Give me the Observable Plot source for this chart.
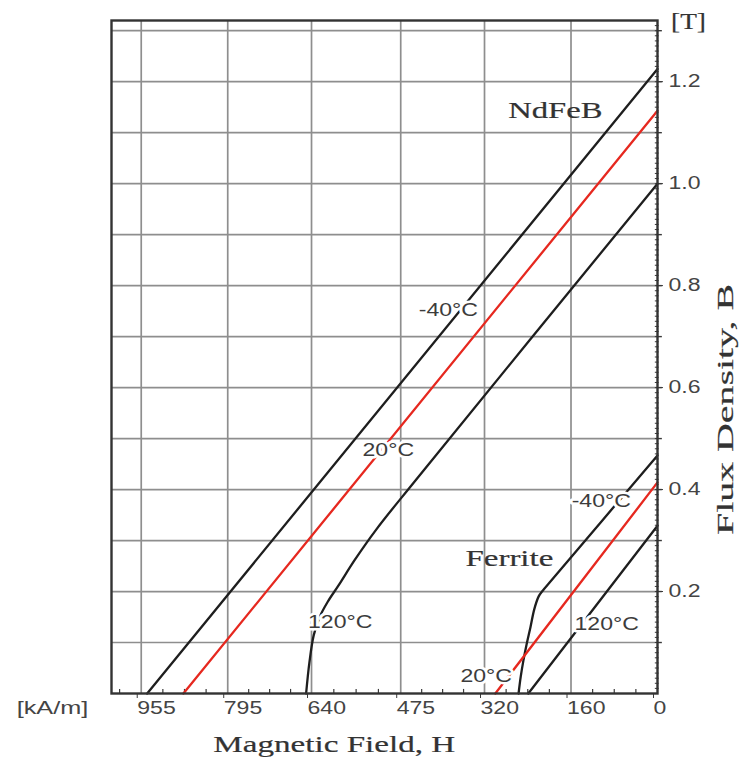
<!DOCTYPE html>
<html>
<head>
<meta charset="utf-8">
<script src="https://cdn.jsdelivr.net/npm/d3@7"></script>
<script src="https://cdn.jsdelivr.net/npm/@observablehq/plot@0.6"></script>
<style>
  body { margin: 0; background: #fff; }
</style>
</head>
<body>
<div id="chart"></div>
<script>
// Second-quadrant demagnetization curves, B (T) against H (kA/m),
// for sintered NdFeB and ferrite magnets at -40 °C, 20 °C and 120 °C.

// Axis ticks
const hTicks = [955, 795, 640, 475, 320, 160, 0];
const bTicks = [0.2, 0.4, 0.6, 0.8, 1.0, 1.2];
const bGrid = [0.1, 0.2, 0.3, 0.4, 0.5, 0.6, 0.7, 0.8, 0.9, 1.0, 1.1, 1.2, 1.3];

// NdFeB curves
const ndfebM40H = [0, 944];
const ndfebM40B = [1.225, 0];
const ndfeb20H = [0, 877];
const ndfeb20B = [1.143, 0];
const ndfeb120H = [0, 450, 520, 560, 590, 610, 625, 636, 644, 650];
const ndfeb120B = [1.0, 0.415, 0.322, 0.262, 0.212, 0.180, 0.150, 0.114, 0.060, 0];

// Ferrite curves
const ferM40H = [0, 200, 212, 220, 228, 235, 242, 248, 253, 257];
const ferM40B = [0.467, 0.217, 0.202, 0.190, 0.165, 0.130, 0.097, 0.065, 0.033, 0];
const fer20H = [0, 300];
const fer20B = [0.414, 0];
const fer120H = [0, 239];
const fer120B = [0.329, 0];

// Temperature labels placed along the curves (H, B)
const tempLabelText = ["-40°C", "20°C", "120°C", "-40°C", "20°C", "120°C"];
const tempLabelH = [387, 498, 587, 104, 317, 94];
const tempLabelB = [0.751, 0.478, 0.139, 0.378, 0.033, 0.135];

// Material names (H, B)
const materialText = ["NdFeB", "Ferrite"];
const materialH = [189, 274];
const materialB = [1.143, 0.265];

const RED = "#e6281f";
const BLACK = "#1e1e1e";

const series = [
  {H: ndfebM40H, B: ndfebM40B, color: BLACK, curve: "linear"},
  {H: ndfeb20H, B: ndfeb20B, color: RED, curve: "linear"},
  {H: ndfeb120H, B: ndfeb120B, color: BLACK, curve: "catmull-rom"},
  {H: ferM40H, B: ferM40B, color: BLACK, curve: "catmull-rom"},
  {H: fer20H, B: fer20B, color: RED, curve: "linear"},
  {H: fer120H, B: fer120B, color: BLACK, curve: "linear"}
];

const toRows = (H, B) => H.map((h, i) => ({H: h, B: B[i]}));

const tempLabels = tempLabelText.map((t, i) => ({text: t, H: tempLabelH[i], B: tempLabelB[i]}));
const materials = materialText.map((t, i) => ({text: t, H: materialH[i], B: materialB[i]}));

// Minor ticks: quarters between the labelled H ticks, 0.01 T steps on B
const minorH = [];
for (let i = 0; i < hTicks.length - 1; i++) {
  const a = hTicks[i], b = hTicks[i + 1];
  for (let k = 1; k < 4; k++) minorH.push(a + (b - a) * k / 4);
}
minorH.push(955 + (955 - 795) / 4);
const minorB = d3.range(1, 132).map(i => i / 100);

const SANS = "'Liberation Sans', Arial, sans-serif";
const SERIF = "'Liberation Serif', 'Times New Roman', serif";
const GRID = "#8e8e8e";
const INK = "#3a3a3a";
const serifStyle = {fontSize: 24, fontFamily: SERIF, fill: "#333", stroke: "#333", strokeWidth: 0.2};

const chart = Plot.plot({
  width: 743,
  height: 762,
  marginLeft: 111,
  marginRight: 86,
  marginTop: 20,
  marginBottom: 69,
  style: {fontFamily: SANS, fontSize: "18px", color: "#444", background: "#fff"},
  x: {domain: [1010, 0]},
  y: {domain: [0, 1.32]},
  marks: [
    Plot.gridX(hTicks.filter(d => d !== 0), {stroke: GRID, strokeOpacity: 1, strokeWidth: 1.7}),
    Plot.gridY(bGrid, {stroke: GRID, strokeOpacity: 1, strokeWidth: 1.7}),
    // minor ticks
    Plot.ruleX(minorH, {y1: 0, y2: 0.008, stroke: INK, strokeWidth: 1.2}),
    Plot.ruleY(minorB, {x1: 4, x2: -3, stroke: INK, strokeWidth: 1}),
    Plot.ruleY(bGrid, {x1: 0, x2: -9, stroke: INK, strokeWidth: 1.4}),
    // H labels start just left of their tick
    Plot.axisX(hTicks, {
      anchor: "bottom", tickSize: 5, tickPadding: 3, tickFormat: d => String(d),
      textAnchor: "start", dx: -4, label: null, stroke: INK
    }),
    Plot.axisY(bTicks, {anchor: "right", tickSize: 5, tickPadding: 6, tickFormat: d3.format(".1f"), label: null, stroke: INK}),
    // curves
    ...series.map(s => Plot.line(toRows(s.H, s.B), {
      x: "H", y: "B", stroke: s.color, strokeWidth: 2.3, curve: s.curve
    })),
    Plot.frame({stroke: "#333", strokeWidth: 2.4}),
    // temperature labels interrupt their curves
    Plot.text(tempLabels, {
      x: "H", y: "B", text: "text", fontSize: 18, fontFamily: SANS, fill: "#3c3c3c",
      stroke: "#fff", strokeWidth: 5, paintOrder: "stroke"
    }),
    Plot.text(materials, {x: "H", y: "B", text: "text", ...serifStyle}),
    // axis titles and units
    Plot.text(["[T]"], {x: 0, y: 1.32, dx: 31, dy: 1, text: d => d, ...serifStyle}),
    Plot.text(["Flux Density, B"], {x: 0, y: 0.557, dx: 68, text: d => d, rotate: -90, ...serifStyle}),
    Plot.text(["Magnetic Field, H"], {x: 598, y: 0, dy: 51, text: d => d, ...serifStyle}),
    Plot.text(["[kA/m]"], {x: 1010, y: 0, dx: -59, dy: 14, text: d => d, fontSize: 19, fontFamily: SANS, fill: "#444"})
  ]
});

document.getElementById("chart").appendChild(chart);

// The lettering is set wide: widen each string along its reading direction.
const widen = new Map([
  ["NdFeB", 1.36], ["Ferrite", 1.375], ["Magnetic Field, H", 1.38],
  ["Flux Density, B", 1.66], ["[T]", 1.14], ["[kA/m]", 1.33]
]);
chart.querySelectorAll("text").forEach(t => {
  const k = widen.get(t.textContent) ?? 1.28;
  const w = t.getComputedTextLength();
  if (w > 0) {
    t.setAttribute("textLength", (w * k).toFixed(1));
    t.setAttribute("lengthAdjust", "spacingAndGlyphs");
  }
});
</script>
</body>
</html>
